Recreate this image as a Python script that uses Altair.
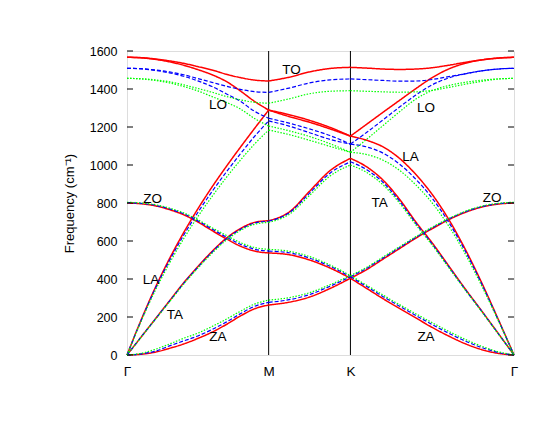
import altair as alt
import pandas as pd

# ---- k-path (Γ-M, M-K, K-Γ) ----
SEG_NAMES = ["ΓM", "MK", "KΓ"]
SEG_START = [0.0, 0.866, 1.366]
SEG_LEN = [0.866, 0.5, 1.0]
FRAC_GM = [0.0, 0.1, 0.2, 0.3, 0.4, 0.5, 0.6, 0.7, 0.8, 0.9, 1.0]
FRAC_MK = [0.0, 0.25, 0.5, 0.75, 1.0]
FRAC_KG = [0.0, 0.1, 0.2, 0.3, 0.4, 0.5, 0.6, 0.7, 0.8, 0.9, 1.0]

TICK_POS = [0.0, 0.866, 1.366, 2.366]
TICK_LABELS = ["Γ", "M", "K", "Γ"]
Y_TICKS = [0, 200, 400, 600, 800, 1000, 1200, 1400, 1600]

# ---- frequencies (cm^-1): 11 points Γ-M, 5 points M-K, 11 points K-Γ ----
RED_ZA = [0, 4, 15, 35, 58, 87, 120, 160, 205, 243, 263,
          263, 278, 305, 350, 404,
          404, 350, 296, 245, 195, 145, 100, 60, 29, 9, 0]
RED_TA = [0, 95, 190, 285, 380, 465, 545, 614, 665, 698, 707,
          707, 752, 862, 970, 1035,
          1035, 990, 920, 820, 700, 590, 470, 350, 235, 118, 0]
RED_LA = [0, 185, 355, 507, 644, 769, 884, 991, 1093, 1192, 1289,
          1289, 1255, 1225, 1190, 1152,
          1152, 1130, 1095, 1035, 950, 845, 715, 560, 385, 195, 0]
RED_ZO = [800, 796, 785, 765, 738, 700, 655, 612, 573, 547, 537,
          537, 528, 500, 458, 404,
          404, 450, 505, 560, 615, 665, 712, 750, 778, 794, 800]
RED_LO = [1567, 1564, 1556, 1543, 1525, 1502, 1475, 1440, 1390, 1335, 1289,
          1289, 1265, 1235, 1198, 1152,
          1152, 1215, 1278, 1340, 1402, 1460, 1505, 1535, 1553, 1563, 1567]
RED_TO = [1567, 1565, 1558, 1548, 1535, 1518, 1500, 1478, 1460, 1447, 1442,
          1442, 1462, 1490, 1508, 1514,
          1514, 1510, 1505, 1503, 1505, 1512, 1525, 1540, 1553, 1562, 1567]

BLUE_ZA = [0, 6, 20, 48, 74, 100, 134, 173, 217, 256, 277,
           277, 291, 318, 362, 412,
           412, 360, 307, 257, 208, 160, 115, 74, 40, 14, 0]
BLUE_TA = [0, 95, 189, 283, 377, 462, 541, 610, 661, 694, 704,
           704, 748, 852, 957, 1017,
           1017, 975, 908, 810, 693, 584, 466, 347, 233, 117, 0]
BLUE_LA = [0, 182, 350, 497, 630, 750, 860, 962, 1058, 1150, 1232,
           1232, 1205, 1170, 1135, 1110,
           1110, 1095, 1062, 1005, 925, 825, 700, 550, 378, 192, 0]
BLUE_ZO = [802, 798, 788, 769, 743, 706, 663, 621, 583, 557, 547,
           547, 538, 510, 467, 412,
           412, 457, 511, 565, 619, 669, 715, 753, 780, 796, 802]
BLUE_LO = [1509, 1506, 1498, 1485, 1467, 1443, 1413, 1375, 1335, 1283, 1246,
           1246, 1220, 1190, 1155, 1110,
           1110, 1172, 1238, 1305, 1368, 1422, 1458, 1480, 1495, 1505, 1509]
BLUE_TO = [1509, 1507, 1500, 1490, 1475, 1455, 1435, 1415, 1398, 1386, 1382,
           1382, 1405, 1432, 1448, 1453,
           1453, 1449, 1445, 1441, 1442, 1450, 1465, 1480, 1495, 1505, 1509]

GREEN_ZA = [0, 9, 30, 58, 88, 115, 150, 188, 230, 268, 289,
            289, 302, 328, 370, 418,
            418, 367, 315, 265, 217, 170, 125, 83, 47, 18, 0]
GREEN_TA = [0, 94, 187, 280, 373, 457, 535, 604, 655, 688, 698,
            698, 740, 840, 942, 1000,
            1000, 960, 895, 800, 685, 578, 461, 344, 231, 116, 0]
GREEN_LA = [0, 178, 340, 483, 612, 728, 834, 933, 1025, 1110, 1184,
            1184, 1160, 1130, 1098, 1067,
            1067, 1055, 1025, 972, 895, 800, 680, 535, 368, 188, 0]
GREEN_ZO = [804, 800, 791, 773, 748, 712, 670, 630, 592, 566, 556,
            556, 546, 518, 474, 418,
            418, 462, 516, 570, 623, 673, 718, 756, 783, 798, 804]
GREEN_LO = [1456, 1453, 1445, 1432, 1413, 1390, 1360, 1330, 1295, 1245, 1205,
            1205, 1180, 1150, 1112, 1067,
            1067, 1136, 1208, 1280, 1347, 1392, 1418, 1435, 1446, 1453, 1456]
GREEN_TO = [1456, 1454, 1448, 1438, 1422, 1403, 1383, 1361, 1343, 1330, 1325,
            1325, 1348, 1375, 1388, 1391,
            1391, 1388, 1385, 1383, 1385, 1393, 1408, 1425, 1440, 1452, 1456]

# ---- in-plot branch labels ----
LABEL_TEXT = ["TO", "LO", "LO", "LA", "TA", "ZO", "ZO", "LA", "TA", "ZA", "ZA"]
LABEL_K = [1.005, 0.556, 1.828, 1.733, 1.544, 0.156, 2.232, 0.147, 0.293, 0.556, 1.828]
LABEL_F = [1500, 1316, 1300, 1042, 800, 823, 826, 395, 213, 95, 95]

BRANCHES = {
    "red": {"ZA": RED_ZA, "TA": RED_TA, "LA": RED_LA, "ZO": RED_ZO, "LO": RED_LO, "TO": RED_TO},
    "blue": {"ZA": BLUE_ZA, "TA": BLUE_TA, "LA": BLUE_LA, "ZO": BLUE_ZO, "LO": BLUE_LO, "TO": BLUE_TO},
    "green": {"ZA": GREEN_ZA, "TA": GREEN_TA, "LA": GREEN_LA, "ZO": GREEN_ZO, "LO": GREEN_LO, "TO": GREEN_TO},
}
FRACS = [FRAC_GM, FRAC_MK, FRAC_KG]


def build(ds):
    rows = []
    for br, vals in BRANCHES[ds].items():
        i = 0
        for s in range(3):
            for fr in FRACS[s]:
                rows.append({"k": SEG_START[s] + fr * SEG_LEN[s], "f": vals[i],
                             "grp": f"{br}-{SEG_NAMES[s]}"})
                i += 1
    return pd.DataFrame(rows)


W, H = 387, 304
xs = alt.Scale(domain=[0, 2.366], nice=False, zero=False)
ys = alt.Scale(domain=[0, 1600], nice=False)

x_axis = alt.Axis(values=TICK_POS, labelExpr=(
    "datum.value < 0.5 ? 'Γ' : (datum.value < 1.0 ? 'M' : (datum.value < 2.0 ? 'K' : 'Γ'))"),
    grid=False, ticks=False, domain=False, labelFlush=False, labelOverlap=False,
    labelPadding=9, labelFontSize=13.5, labelFont="Liberation Sans", labelColor="black",
    title=None)
y_axis = alt.Axis(values=Y_TICKS, format="d", grid=False, ticks=False, domain=False,
                  labelFlush=False, labelOverlap=False,
                  labelPadding=10, labelFontSize=12.5, labelFont="Liberation Sans",
                  labelColor="black", title="Frequency (cm⁻¹)", titleFontSize=13,
                  titleFont="Liberation Sans", titleFontWeight="normal", titleColor="black",
                  titlePadding=13)

vlines = alt.Chart(pd.DataFrame({"k": TICK_POS[1:3]})).mark_rule(
    color="black", strokeWidth=1).encode(x=alt.X("k:Q", scale=xs, axis=x_axis))

STYLE = {"red": ("#ff0000", 1.5, [1, 0]), "blue": ("#0000ff", 1.2, [4, 2]),
         "green": ("#00ff00", 1.2, [1.5, 1.5])}

line_layers = []
for ds in ["red", "blue", "green"]:
    col, sw, dash = STYLE[ds]
    line_layers.append(
        alt.Chart(build(ds)).mark_line(color=col, strokeWidth=sw, strokeDash=dash,
                                       interpolate="monotone").encode(
            x=alt.X("k:Q", scale=xs, axis=x_axis),
            y=alt.Y("f:Q", scale=ys, axis=y_axis),
            detail="grp:N",
        )
    )

labels = alt.Chart(pd.DataFrame({"t": LABEL_TEXT, "k": LABEL_K, "f": LABEL_F})).mark_text(
    font="Liberation Sans", fontSize=13.5, color="black", align="center", baseline="middle"
).encode(x=alt.X("k:Q", scale=xs, axis=x_axis), y=alt.Y("f:Q", scale=ys, axis=y_axis),
         text="t:N")

ytick_df = pd.DataFrame({"f": Y_TICKS})
ticks_left = alt.Chart(ytick_df).mark_rule(color="black", strokeWidth=1).encode(
    y=alt.Y("f:Q", scale=ys, axis=y_axis), x=alt.value(0), x2=alt.value(6))
ticks_right = alt.Chart(ytick_df).mark_rule(color="black", strokeWidth=1).encode(
    y=alt.Y("f:Q", scale=ys, axis=y_axis), x=alt.value(W - 6), x2=alt.value(W))

chart = alt.layer(vlines, *line_layers, labels, ticks_left, ticks_right).properties(
    width=W, height=H,
    autosize=alt.AutoSizeParams(type="none"),
    padding={"left": 119, "top": 43, "right": 28, "bottom": 62},
).configure_view(stroke="black", strokeWidth=1).configure(background="white")

chart.save("out.html", embed_options={"renderer": "svg", "actions": False})
